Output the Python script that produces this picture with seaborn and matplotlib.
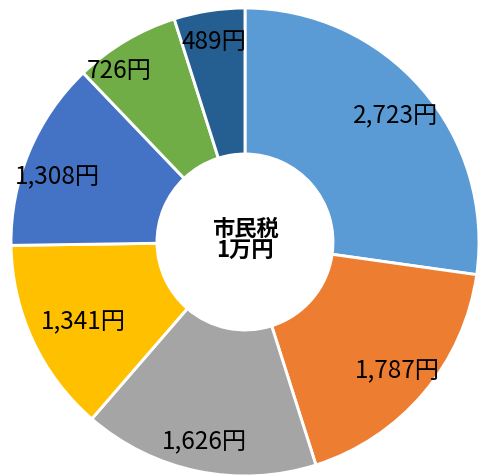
import numpy as np
import matplotlib
matplotlib.use('Agg')
import matplotlib.pyplot as plt
import seaborn as sns

# 市民税 1万円 の内訳
values = [2723, 1787, 1626, 1341, 1308, 726, 489]
labels = ['2,723円', '1,787円', '1,626円', '1,341円', '1,308円', '726円', '489円']
colors = ['#5B9BD5', '#ED7D31', '#A5A5A5', '#FFC000', '#4472C4', '#70AD47', '#255E91']
center_text = '市民税\n1万円'

# label placement tweaks (radius, angle nudge in degrees)
label_r = [0.84, 0.85, 0.87, 0.77, 0.85, 0.91, 0.87]
label_nudge = [-1, 0, 0, 1, 3.5, 5.5, 0]

sns.set_theme(style='white')
plt.rcParams['font.family'] = ['Noto Sans CJK JP', 'DejaVu Sans']

fig = plt.figure(figsize=(4.8, 4.77), dpi=100)
ax = fig.add_axes([11 / 480, 0, 468 / 480, 468 / 477])

wedges, _ = ax.pie(values,
                   colors=colors,
                   startangle=90,
                   counterclock=False,
                   radius=1,
                   wedgeprops=dict(width=0.624, edgecolor='white', linewidth=2.1))

# labels at the middle angle of each slice
total = sum(values)
cum = np.cumsum([0] + values[:-1])
for v, c, lab, r, nd in zip(values, cum, labels, label_r, label_nudge):
    ang = np.deg2rad(90 - 360 * (c + v / 2) / total + nd)
    ax.text(r * np.cos(ang), r * np.sin(ang), lab,
            ha='center', va='center', fontsize=17.5, color='black')

ax.text(0, 0.01, center_text, ha='center', va='center',
        fontsize=16, fontweight='bold', linespacing=0.92, color='black')

ax.set_xlim(-1, 1)
ax.set_ylim(-1, 1)
ax.axis('off')

plt.savefig('out.png', dpi=100)
plt.close()
